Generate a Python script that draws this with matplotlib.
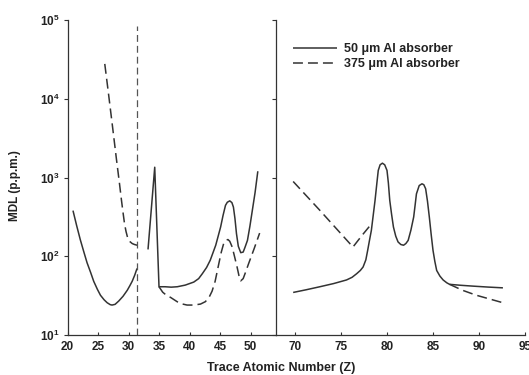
import matplotlib
matplotlib.use('Agg')
import matplotlib.pyplot as plt
from matplotlib.ticker import NullLocator

# MDL curves for the two Al absorber thicknesses (Z, p.p.m.)
z_thin_low = [20.9, 21.5, 22.1, 22.7, 23.2, 23.8, 24.3, 24.9, 25.4, 26.0, 26.5, 27.0,
              27.3, 27.8, 28.4, 29.1, 29.8, 30.2, 30.6, 31.0, 31.4]
mdl_thin_low = [380, 245, 162, 112, 83, 62, 48, 38, 32, 28, 25.7, 24.3,
                24, 24.5, 27, 31, 37, 42, 48, 57, 70]

z_thin_mid = [33.2, 34.3, 35.0, 36.0, 37.0, 38.0, 39.3, 40.7, 41.5, 42.1, 42.8, 43.4,
              44.3, 44.7, 45.1, 45.5, 45.9, 46.2, 46.6, 46.95, 47.2, 47.45, 47.7, 48.0,
              48.4, 48.8, 49.1, 49.5, 49.9, 50.3, 50.75, 51.2]
mdl_thin_mid = [122, 1350, 41, 41, 40.5, 41, 43, 47, 52, 60, 72, 89,
                138, 180, 235, 330, 443, 485, 505, 480, 421, 302, 194, 134,
                111, 113, 130, 159, 240, 382, 645, 1200]

z_thin_high = [69.8, 71.2, 72.7, 74.2, 75.6, 76.2, 76.7, 77.1, 77.4, 77.7, 77.9, 78.1,
               78.3, 78.5, 78.7, 78.9, 79.05, 79.25, 79.5, 79.75, 80.0, 80.15, 80.3, 80.5,
               80.7, 80.95, 81.2, 81.5, 81.8, 82.05, 82.3, 82.6, 82.9, 83.05, 83.2, 83.5,
               83.8, 84.0, 84.2, 84.4, 84.6, 84.8, 85.0, 85.2, 85.4, 85.75, 86.1, 86.5,
               86.8, 88.0, 89.4, 91.0, 92.6]
mdl_thin_high = [34.7, 37.5, 41, 45, 50, 54, 60, 66, 73, 90, 119, 160,
                 213, 330, 512, 850, 1230, 1450, 1520, 1450, 1230, 850, 512, 340,
                 235, 180, 152, 141, 138, 145, 159, 215, 315, 440, 620, 790,
                 832, 810, 720, 500, 315, 190, 119, 86, 66, 56, 50, 46,
                 44, 42.8, 41.7, 40.6, 39.7]

z_thick_low = [26.11, 26.72, 27.38, 28.03, 28.52, 28.85, 29.10, 29.34, 29.59, 29.84,
               30.16, 30.61, 30.98, 31.43]
mdl_thick_low = [27700, 11600, 4430, 1690, 840, 512, 361, 262, 207, 174,
                 155, 145, 141, 138]

z_thick_mid = [35.0, 35.6, 36.2, 36.9, 38.0, 38.8, 39.6, 40.7, 41.8, 42.6, 43.2, 43.7,
               44.2, 44.8, 45.2, 45.6, 46.0, 46.3, 46.6, 47.0, 47.4, 47.8, 48.1, 48.4,
               48.8, 49.2, 49.7, 50.6, 51.5]
mdl_thick_mid = [41, 35, 32, 30, 26.4, 24.8, 24, 24, 24.7, 26.5, 30, 36,
                 48, 80, 112, 145, 160, 163, 155, 131, 98, 73, 57, 48.7,
                 52, 63, 81, 125, 197]

z_thick_high_a = [69.8, 72.7, 76.3, 77.3, 78.4]
mdl_thick_high_a = [890, 383, 131, 185, 265]
z_thick_high_b = [86.8, 88.2, 89.7, 92.8]
mdl_thick_high_b = [44, 37, 32, 25.3]

z_edge = 31.4
edge_span = [10, 85000]

left_ticks = [20, 25, 30, 35, 40, 45, 50]
right_ticks = [70, 75, 80, 85, 90, 95]
y_ticks = [10, 100, 1000, 10000, 100000]
y_labels = [r'$10^{1}$', r'$10^{2}$', r'$10^{3}$', r'$10^{4}$', r'$10^{5}$']

plt.rcParams['font.family'] = ['Liberation Sans', 'DejaVu Sans']
plt.rcParams['font.weight'] = 'bold'
plt.rcParams['mathtext.fontset'] = 'custom'
plt.rcParams['mathtext.rm'] = 'Liberation Sans:bold'
plt.rcParams['mathtext.default'] = 'rm'

ink = '#333333'
solid_kw = dict(color=ink, lw=1.1, solid_capstyle='butt', solid_joinstyle='round')
dash_kw = dict(color=ink, lw=1.1, linestyle=(0, (6.5, 3.3)))

W, H = 529, 375
fig = plt.figure(figsize=(W / 100, H / 100), dpi=100)
bottom = 1 - 335 / H
height = (335 - 20) / H
ax1 = fig.add_axes([67.5 / W, bottom, (276 - 67.5) / W, height])
ax2 = fig.add_axes([276 / W, bottom, (525 - 276) / W, height])

ax1.plot(z_thin_low, mdl_thin_low, **solid_kw)
ax1.plot(z_thin_mid, mdl_thin_mid, **solid_kw)
ax1.plot(z_thick_low, mdl_thick_low, **dash_kw)
ax1.plot(z_thick_mid, mdl_thick_mid, **dash_kw)
ax1.plot([z_edge, z_edge], edge_span, color='#555555', lw=0.9,
         linestyle=(0, (5.5, 3.2)))

thin, = ax2.plot(z_thin_high, mdl_thin_high, **solid_kw)
thick, = ax2.plot(z_thick_high_a, mdl_thick_high_a, **dash_kw)
ax2.plot(z_thick_high_b, mdl_thick_high_b, **dash_kw)

ax1.set_xlim(20, 20 + (276 - 67.5) / 6.1)
ax2.set_xlim(70 - 19 / 9.2, 95)

for ax in (ax1, ax2):
    ax.set_yscale('log')
    ax.set_ylim(10, 1e5)
    ax.set_yticks(y_ticks)
    ax.yaxis.set_minor_locator(NullLocator())
    ax.spines['top'].set_visible(False)
    ax.spines['right'].set_visible(False)
    for s in ('left', 'bottom'):
        ax.spines[s].set_color(ink)
        ax.spines[s].set_linewidth(0.9)
    ax.tick_params(axis='x', direction='in', length=2.5, width=0.8, color=ink,
                   labelsize=8.5, pad=4.5, labelcolor='#222222')
    ax.tick_params(axis='y', direction='out', length=3, width=0.8, color=ink,
                   labelsize=8.5, pad=2.5, labelcolor='#222222')
    ax.patch.set_alpha(0)

ax1.set_xticks(left_ticks)
ax2.set_xticks(right_ticks)
ax1.set_yticklabels(y_labels)
ax2.set_yticklabels([])

fig.text(15 / W, 1 - 186 / H, 'MDL (p.p.m.)', rotation=90, ha='center',
         va='center', fontsize=8.5, color='#222222')
fig.text(281 / W, 1 - 371 / H, 'Trace Atomic Number (Z)', ha='center',
         va='baseline', fontsize=9, color='#222222')

fig.legend([thin, thick], ['50 μm Al absorber', '375 μm Al absorber'],
           loc='upper left', bbox_to_anchor=(293 / W, 1 - 43 / H),
           frameon=False, fontsize=9, handlelength=3.5, handletextpad=0.6,
           labelspacing=0.28, borderpad=0, borderaxespad=0, labelcolor='#222222')

fig.savefig('out.png', dpi=100)
